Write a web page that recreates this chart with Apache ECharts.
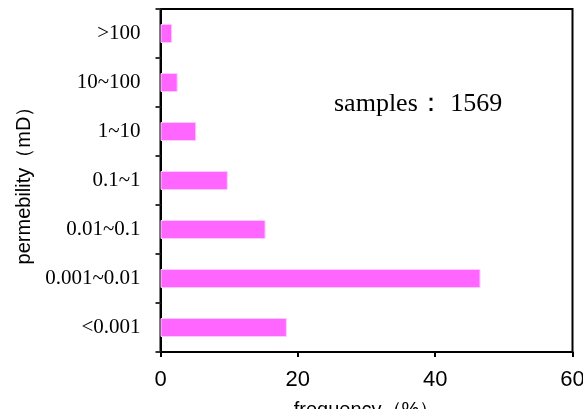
<!DOCTYPE html>
<html>
<head>
<meta charset="utf-8">
<script src="https://cdn.jsdelivr.net/npm/echarts@6/dist/echarts.min.js"></script>
<style>
  html, body { margin: 0; padding: 0; background: #fff; }
  #chart { width: 583px; height: 409px; }
</style>
</head>
<body>
<div id="chart"></div>
<script>
// Permeability classes, listed bottom to top
const categories = ['<0.001', '0.001~0.01', '0.01~0.1', '0.1~1', '1~10', '10~100', '>100'];
// Share of samples in each class (%)
const frequency = [18.4, 46.6, 15.3, 9.8, 5.2, 2.5, 1.7];
// Frequency axis ticks
const xTicks = [0, 20, 40, 60];
const sampleCount = 1569;

const chart = echarts.init(document.getElementById('chart'));
chart.setOption({
  animation: false,
  grid: {
    left: 160.5, right: 10.5, top: 9, bottom: 57,
    outerBoundsMode: 'none',
    show: true, borderColor: '#000', borderWidth: 2, backgroundColor: 'transparent'
  },
  title: {
    text: 'samples： ' + sampleCount,
    left: 329, top: 86,
    textStyle: { fontFamily: 'Liberation Serif', fontSize: 26, fontWeight: 'normal', color: '#000' }
  },
  xAxis: {
    type: 'value',
    min: xTicks[0], max: xTicks[xTicks.length - 1], interval: 20,
    name: 'frequency（%）',
    nameLocation: 'middle', nameGap: 48,
    nameTextStyle: { fontFamily: 'Liberation Sans', fontSize: 20, color: '#000' },
    axisLine: { show: true, lineStyle: { color: '#000', width: 2 } },
    axisTick: { show: true, length: 5, lineStyle: { color: '#000', width: 2 } },
    axisLabel: { margin: 17, fontFamily: 'Liberation Sans', fontSize: 22, color: '#000' },
    splitLine: { show: false }
  },
  yAxis: {
    type: 'category',
    data: categories,
    name: 'permebility（mD）',
    nameLocation: 'middle', nameGap: 125,
    nameTextStyle: { fontFamily: 'Liberation Sans', fontSize: 20, color: '#000' },
    axisLine: { show: true, lineStyle: { color: '#000', width: 2 } },
    axisTick: { show: true, length: 5, lineStyle: { color: '#333', width: 2 } },
    axisLabel: { margin: 20, fontFamily: 'Liberation Serif', fontSize: 21, color: '#000' }
  },
  series: [{
    type: 'bar',
    data: frequency,
    barWidth: 19,
    itemStyle: { color: '#ff66ff', borderColor: '#ffc8ff', borderWidth: 1 }
  }]
});
</script>
</body>
</html>
